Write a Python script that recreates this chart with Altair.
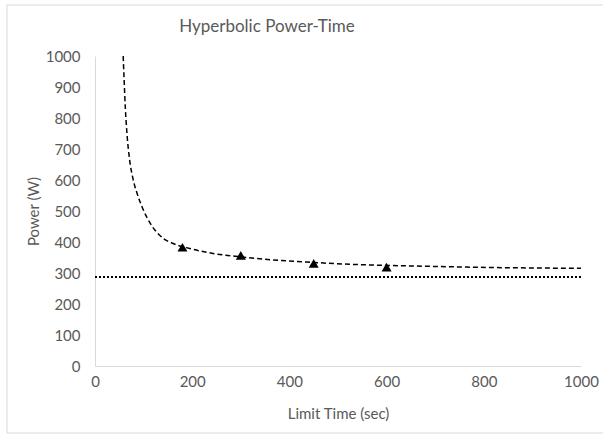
import altair as alt
import pandas as pd

title_text = ["Hyperbolic Power-Time"]

curve_t = [58, 60, 62.5, 66, 71, 78, 87, 99, 117, 141, 161, 195, 243, 300, 360, 450, 525, 645, 765, 1000]
curve_p = [1000, 920, 830, 745, 668, 605, 555, 505, 452, 411, 395, 379, 363, 352, 343, 334, 328, 323, 319, 315]

pts_t = [180, 300, 450, 600]
pts_p = [383, 357, 331, 319]

cp_value = [287]
cp_range = [0, 1000]

y_ticks = [0, 100, 200, 300, 400, 500, 600, 700, 800, 900, 1000]
x_ticks = [0, 200, 400, 600, 800, 1000]

FONT = "Lato"
GRAY = "#595959"

curve_df = pd.DataFrame({"t": curve_t, "p": curve_p})
pts_df = pd.DataFrame({"t": pts_t, "p": pts_p})
cp_df = pd.DataFrame({"t": [cp_range[0]], "t2": [cp_range[1]], "p": cp_value})
title_df = pd.DataFrame({"label": title_text})

xs = alt.Scale(domain=[0, 1000], nice=False, zero=False)
ys = alt.Scale(domain=[0, 1000], nice=False, zero=False)

x_axis = alt.Axis(
    values=x_ticks, format="d", title="Limit Time (sec)", grid=False, ticks=False,
    domainColor="#d9d9d9", domainWidth=1, labelColor=GRAY, labelFont=FONT,
    labelFontSize=15, labelPadding=8, labelFlush=False, labelOverlap=False,
    titleColor=GRAY, titleFont=FONT, titleFontSize=15, titleFontWeight="normal",
    titleX=243, titleY=47, titleBaseline="middle", titleAlign="center",
)
y_axis = alt.Axis(
    values=y_ticks, format="d", title="Power (W)", grid=False, ticks=False,
    domainColor="#d9d9d9", domainWidth=1, labelColor=GRAY, labelFont=FONT,
    labelFontSize=15, labelPadding=15, labelFlush=False, labelOverlap=False,
    titleColor=GRAY, titleFont=FONT, titleFontSize=15, titleFontWeight="normal",
    titleX=-62, titleY=155, titleAngle=270, titleBaseline="middle", titleAlign="center",
)

X = alt.X("t:Q", scale=xs, axis=x_axis)
Y = alt.Y("p:Q", scale=ys, axis=y_axis)

border = alt.Chart(title_df).mark_rect(fill=None, stroke="#d9d9d9", strokeWidth=1).encode(
    x=alt.value(-88), x2=alt.value(530), y=alt.value(-51), y2=alt.value(377)
)

curve = alt.Chart(curve_df).mark_line(
    color="black", strokeDash=[5, 3], strokeWidth=1.5, interpolate="monotone"
).encode(x=X, y=Y)

cp_line = alt.Chart(cp_df).mark_rule(color="black", strokeDash=[2, 2], strokeWidth=2).encode(
    x=X, x2="t2:Q", y=Y
)

points = alt.Chart(pts_df).mark_point(
    shape="triangle-up", filled=True, color="black", size=100, opacity=1
).encode(x=X, y=Y)

title = alt.Chart(title_df).mark_text(
    font=FONT, fontSize=17, color=GRAY, baseline="middle", align="center"
).encode(
    x=alt.value(172), y=alt.value(-29), text="label:N"
)

chart = alt.layer(border, cp_line, curve, points, title).properties(
    width=486, height=310,
    padding={"left": 95, "top": 56, "right": 22, "bottom": 70},
    autosize=alt.AutoSizeParams(type="none"),
    background="white",
).configure_view(stroke=None)

chart.save("out.html", embed_options={"renderer": "svg", "actions": False})
